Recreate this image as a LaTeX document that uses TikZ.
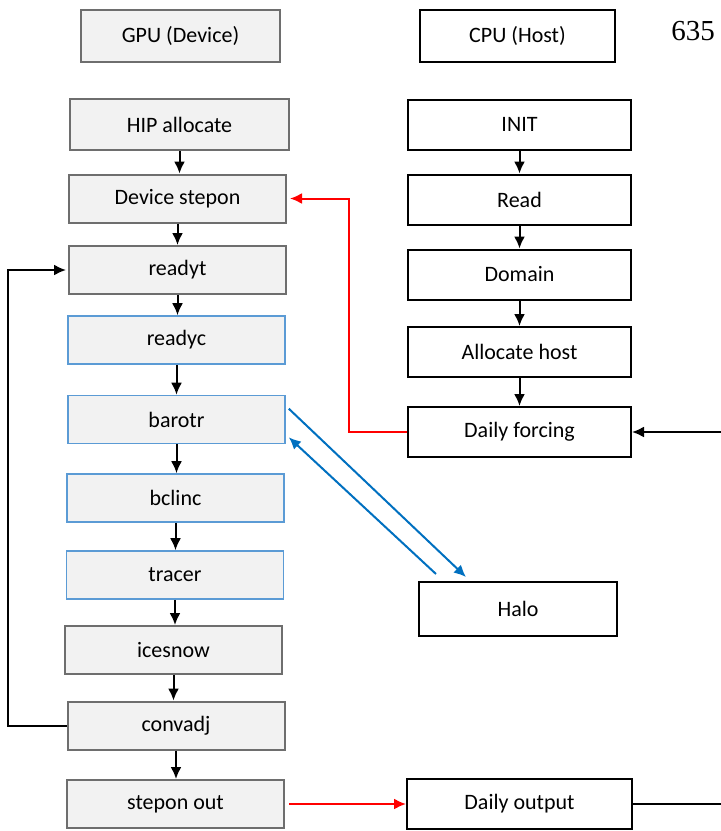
\documentclass[tikz,border=0pt]{standalone}
\usepackage{fontspec}
\setmainfont{Carlito}
\newfontfamily\pagefont{Liberation Serif}
\usetikzlibrary{arrows.meta,positioning}
\definecolor{boxgray}{HTML}{F2F2F2}
\definecolor{edgegray}{HTML}{6E6E6E}
\definecolor{kernblue}{HTML}{5B9BD5}
\definecolor{haloblue}{HTML}{0070C0}
\tikzset{
	x=1pt, y=1pt,
	>={Latex[length=12pt,width=11pt]},
	devbox/.style = {
			draw            = edgegray,
			fill            = boxgray,
			line width      = 2pt,
			minimum width   = 217pt,
			minimum height  = 48pt,
			font            = \fontsize{22}{26}\selectfont,
		},
	kernbox/.style = {devbox, draw=kernblue, line width=1.6pt},
	hostbox/.style = {devbox, draw=black, fill=white, minimum width=223pt, minimum height=50pt},
	flow/.style    = {->, line width=2pt, draw=black},
	sendflow/.style = {->, line width=2pt, draw=red},
	haloflow/.style = {->, line width=2pt, draw=haloblue},
}

\begin{document}
\begin{tikzpicture}
	\useasboundingbox (0,0) rectangle (721,-831);

	% Column heads
	\node[devbox, minimum width=199pt, minimum height=52pt] (gpu) at (180.5,-36) {GPU (Device)};
	\node[hostbox, minimum width=195pt, minimum height=52pt] (cpu) at (517.5,-36) {CPU (Host)};
	\node[font=\pagefont\fontsize{29}{32}\selectfont] (pg) at (693,-31) {635};

	% Device side
	\node[devbox, minimum width=219pt, minimum height=51pt] (hip) at (179.5,-124.5) {HIP allocate};
	\node[devbox] (dev)  at (177.5,-198.5) {Device stepon};
	\node[devbox] (rdt)  at (177.5,-270)   {readyt};
	\node[kernbox] (rdc)  at (176.5,-340)  {readyc};
	\node[kernbox] (baro) at (176.5,-419.5) {barotr};
	\node[kernbox] (bcl)  at (175.5,-498)  {bclinc};
	\node[kernbox] (trc)  at (175,-575)    {tracer};
	\node[devbox] (ice)  at (173.5,-650)   {icesnow};
	\node[devbox] (conv) at (176,-725.5)   {convadj};
	\node[devbox] (sout) at (175.5,-804)   {stepon out};

	% Host side
	\node[hostbox] (init) at (519.5,-124.5) {INIT};
	\node[hostbox] (read) at (519.5,-199.5) {Read};
	\node[hostbox] (dom)  at (519.5,-274.5) {Domain};
	\node[hostbox] (alh)  at (519.5,-352)   {Allocate host};
	\node[hostbox] (forc) at (519.5,-432)   {Daily forcing};
	\node[hostbox, minimum width=198pt, minimum height=54pt] (halo) at (518,-609) {Halo};
	\node[hostbox, minimum width=225pt] (dout) at (519.5,-804) {Daily output};

	% Free ends at the right border
	\coordinate (fin)  at (721,-432);
	\coordinate (fout) at (721,-804);

	% Top-down flow in both columns
	\foreach \a/\b in {hip/dev, dev/rdt, rdt/rdc, rdc/baro, baro/bcl, bcl/trc, trc/ice, ice/conv, conv/sout,
			init/read, read/dom, dom/alh, alh/forc}
		{ \draw[flow] (\a.south) -- (\a.south |- \b.north); }

	% Time loop back to readyt
	\draw[flow, shorten >=2pt] (conv.west) -- ++(-59,0) |- (rdt.west);

	% Host to device and back
	\draw[sendflow, shorten >=3pt] (forc.west) -- ++(-58,0) |- (dev.east);
	\draw[sendflow, shorten <=4pt] (sout.east) -- (dout.west);
	\draw[flow] (fin) -- (forc.east);
	\draw[line width=2pt] (dout.east) -- (fout);

	% Halo exchange
	\draw[haloflow] ([xshift=3pt,yshift=-14pt]baro.north east) -- ([xshift=48pt,yshift=4pt]halo.north west);
	\draw[haloflow] ([xshift=18pt,yshift=7pt]halo.north west) -- ([xshift=3pt,yshift=7pt]baro.south east);
\end{tikzpicture}
\end{document}
